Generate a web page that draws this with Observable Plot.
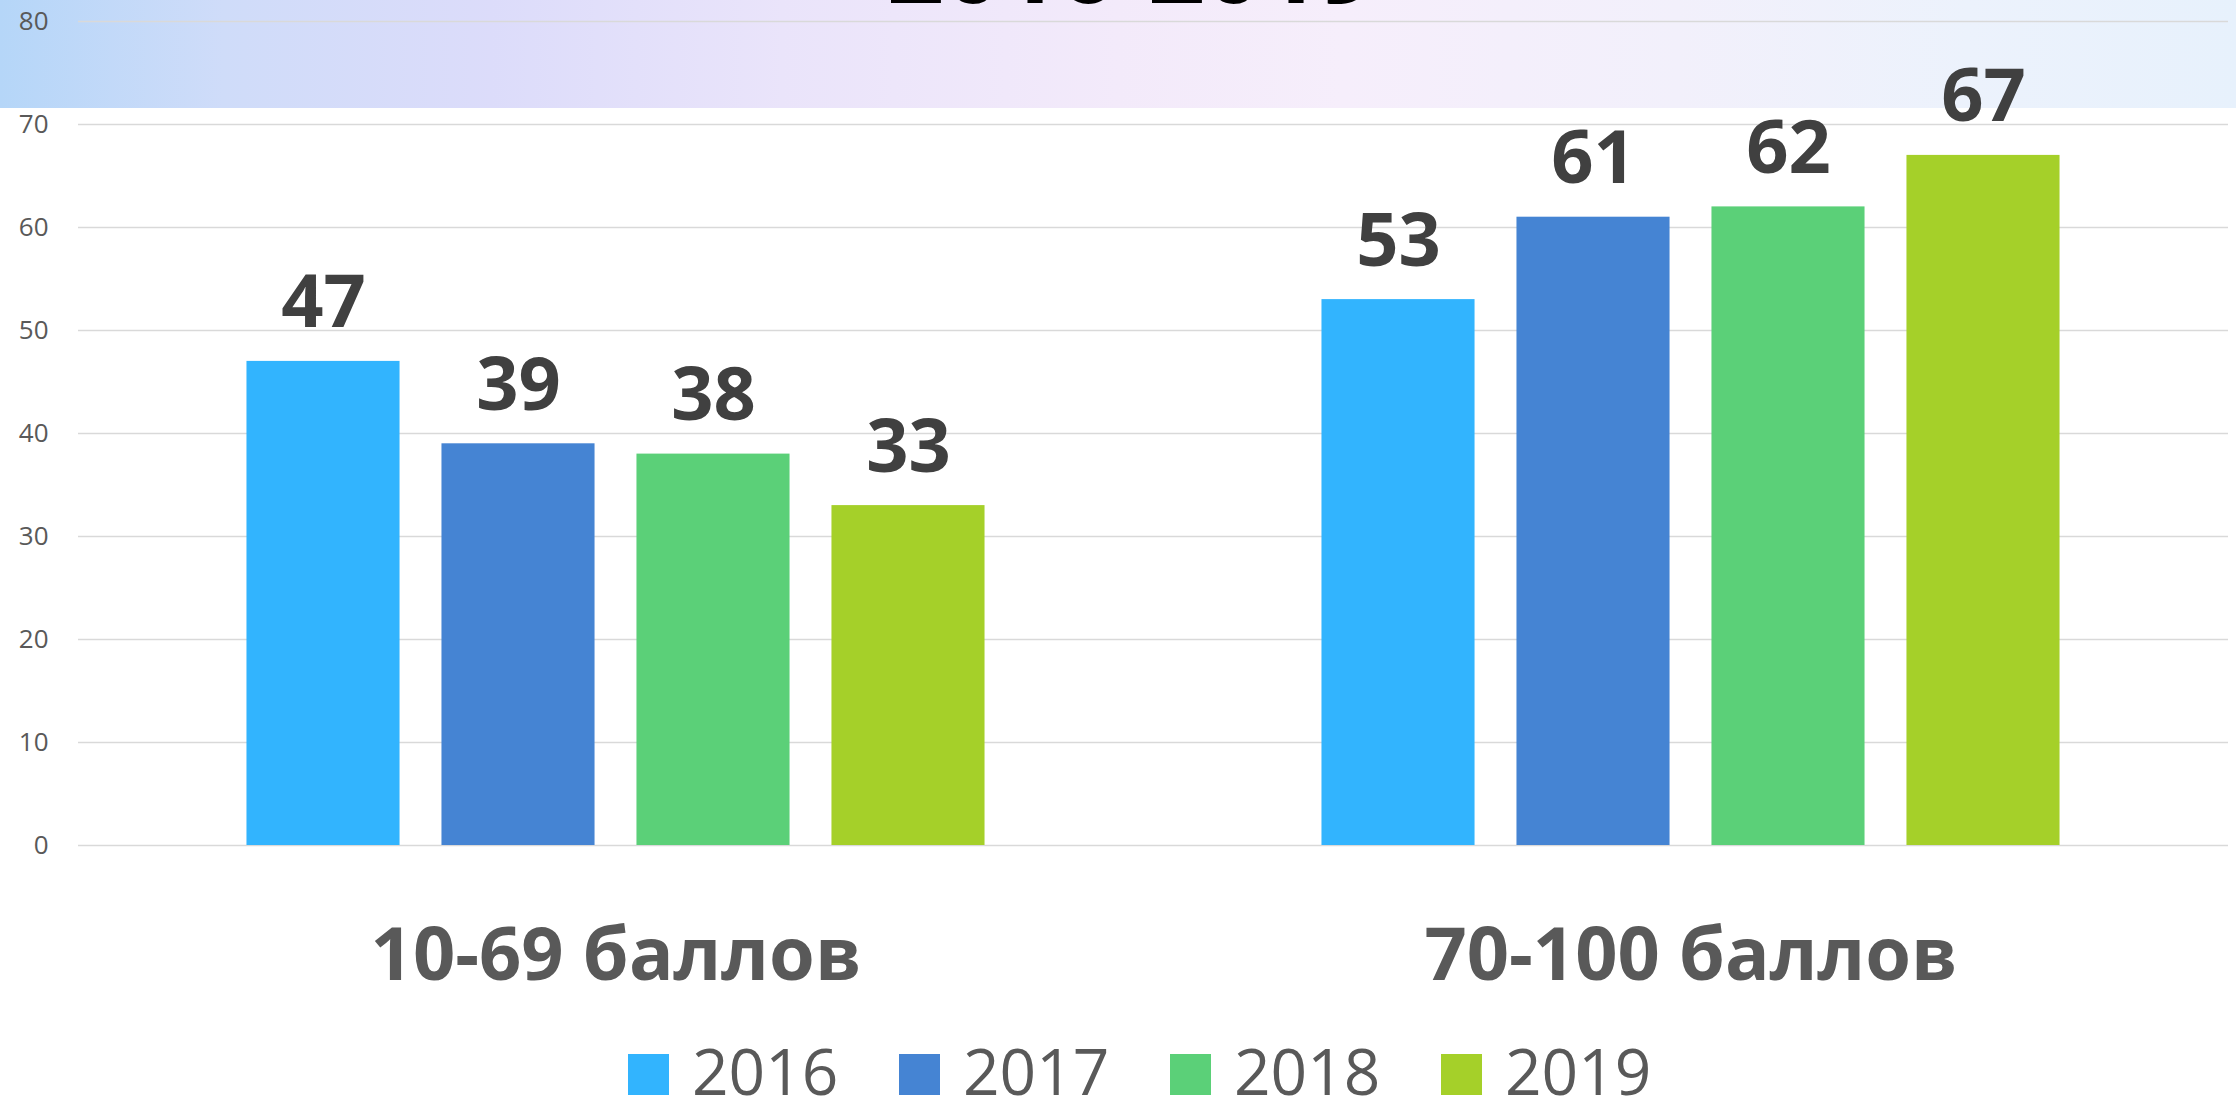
<!DOCTYPE html>
<html>
<head>
<meta charset="utf-8">
<script src="https://cdn.jsdelivr.net/npm/d3@7"></script>
<script src="https://cdn.jsdelivr.net/npm/@observablehq/plot@0.6"></script>
<style>
  html, body { margin: 0; padding: 0; background: #ffffff; width: 2236px; height: 1100px; overflow: hidden; font-family: "Open Sans", sans-serif; }
  #band { position: absolute; left: 0; top: 0; width: 2236px; height: 108px; z-index: 0;
    background: linear-gradient(90deg, #b5d6f8 0%, #cfdcf9 10%, #dcdcfa 22%, #eae4fa 35%, #f3eafa 50%, #f6eefb 60%, #f2f0fb 75%, #ecf2fc 88%, #e7f1fc 100%); }
  #title { position: absolute; left: 887px; top: -86px; font-size: 100px; line-height: 1; font-weight: 700; color: #000; z-index: 1; white-space: nowrap; }
  #chart { position: absolute; left: 0; top: 0; z-index: 2; }
  #legend { position: absolute; left: 628px; top: 1046px; height: 50px; display: flex; align-items: center; z-index: 2; }
  .item { display: flex; align-items: center; width: 271px; height: 50px; }
  .sw { width: 41px; height: 41px; margin-right: 23px; flex: none; margin-top: 6px; }
  .lab { font-size: 64px; line-height: 50px; height: 50px; color: #595959; }
</style>
</head>
<body>
<div id="band"></div>
<div id="title">2016-2019</div>
<div id="chart"></div>
<div id="legend"></div>
<script>
const categories = ["10-69 баллов", "70-100 баллов"];
const years = ["2016", "2017", "2018", "2019"];
const values_10_69 = [47, 39, 38, 33];
const values_70_100 = [53, 61, 62, 67];
const yearColors = ["#32B4FE", "#4584D3", "#5BD078", "#A5D029"];
const yTicks = [0, 10, 20, 30, 40, 50, 60, 70, 80];

const rows = [];
[values_10_69, values_70_100].forEach((vals, ci) => {
  vals.forEach((v, yi) => rows.push({category: categories[ci], year: years[yi], value: v}));
});

const chart = Plot.plot({
  width: 2236,
  height: 1030,
  marginLeft: 78,
  marginRight: 8,
  marginTop: 21,
  marginBottom: 185,
  style: {background: "transparent", fontFamily: "Open Sans, sans-serif"},
  fx: {domain: categories, padding: 0, label: null, round: false},
  x: {domain: years, paddingInner: 0.215, paddingOuter: 0.864, axis: null, round: false},
  y: {domain: [0, 80], label: null},
  color: {domain: years, range: yearColors},
  marks: [
    Plot.gridY(yTicks, {stroke: "#d9d9d9", strokeOpacity: 1, strokeWidth: 1.6}),
    Plot.axisY(yTicks, {tickSize: 0, tickPadding: 30, fontSize: 26, fill: "#595959", label: null}),
    Plot.axisFx({anchor: "bottom", tickSize: 0, tickPadding: 82, fontSize: 74, fontWeight: "bold", fill: "#595959", label: null}),
    Plot.barY(rows, {fx: "category", x: "year", y: "value", fill: "year"}),
    Plot.text(rows, {fx: "category", x: "year", y: "value", text: d => String(d.value), dy: -34, lineAnchor: "bottom", fontSize: 74, fontWeight: "bold", fill: "#404040"})
  ]
});
document.getElementById("chart").appendChild(chart);

const legend = document.getElementById("legend");
years.forEach((yr, i) => {
  const item = document.createElement("div");
  item.className = "item";
  const sw = document.createElement("div");
  sw.className = "sw";
  sw.style.background = yearColors[i];
  const lab = document.createElement("div");
  lab.className = "lab";
  lab.textContent = yr;
  item.appendChild(sw);
  item.appendChild(lab);
  legend.appendChild(item);
});
</script>
</body>
</html>
